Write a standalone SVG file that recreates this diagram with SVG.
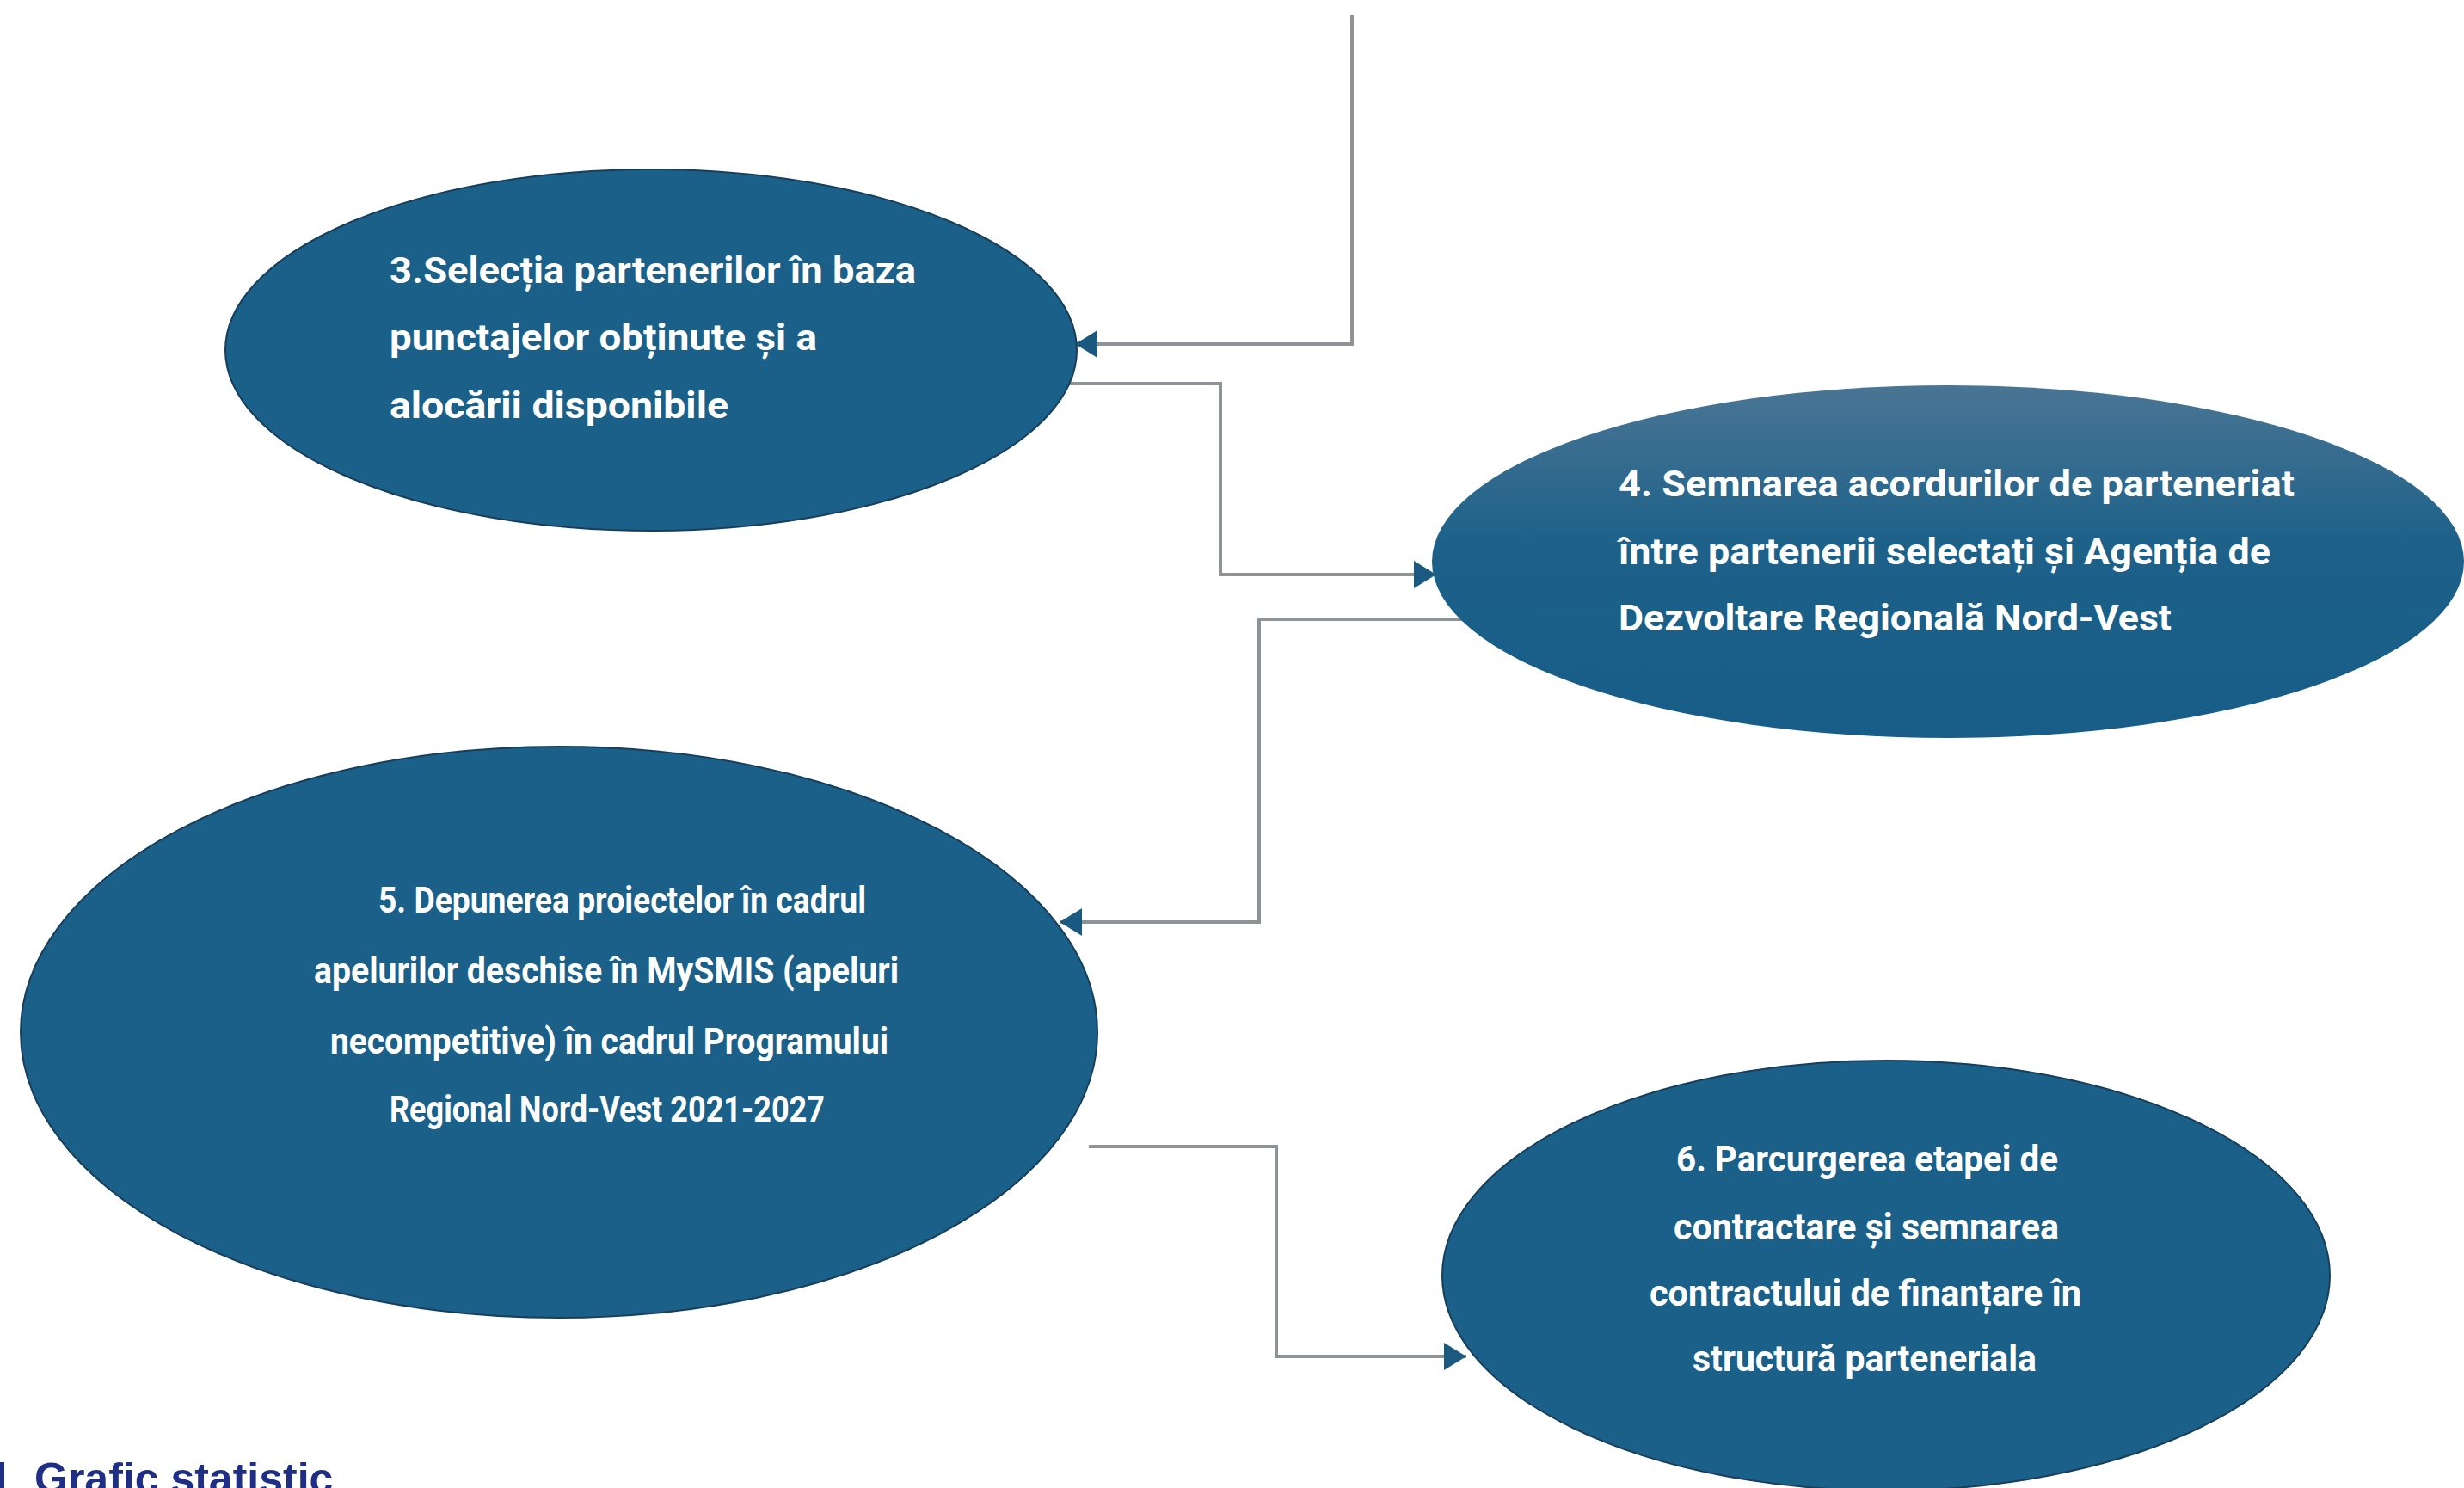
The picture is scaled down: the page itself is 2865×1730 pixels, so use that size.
<svg xmlns="http://www.w3.org/2000/svg" width="2865" height="1730" viewBox="0 0 2865 1730">
<style>
.node{fill:#1b6089;stroke:#173f5c;stroke-width:2}
.lbl{font-family:Roboto,"Liberation Sans",sans-serif;font-weight:bold;font-size:43px;fill:#ffffff}
.conn{fill:none;stroke:#8e9398;stroke-width:4}
.cap{font-family:"Liberation Sans",Arial,sans-serif;font-weight:bold;font-size:50px;fill:#1f2f86}
</style>
<defs>
<linearGradient id="g4" x1="0" y1="0" x2="0" y2="1">
<stop offset="0" stop-color="#4a7594"/>
<stop offset="0.45" stop-color="#1d6189"/>
<stop offset="1" stop-color="#175d88"/>
</linearGradient>
<marker id="ah" markerUnits="userSpaceOnUse" markerWidth="28" markerHeight="32" refX="26" refY="16" orient="auto">
<path d="M0,0 L26,16 L0,32 Z" fill="#1b5a80"/>
</marker>
</defs>
<rect width="2865" height="1730" fill="#ffffff"/>

<g id="connectors">
<path class="conn" d="M1572,18 V400 H1250" marker-end="url(#ah)"/>
<path class="conn" d="M1240,446 H1419 V668 H1670" marker-end="url(#ah)"/>
<path class="conn" d="M1700,720 H1464 V1072 H1232" marker-end="url(#ah)"/>
<path class="conn" d="M1266,1333 H1484 V1577 H1705" marker-end="url(#ah)"/>
</g>

<g id="node3">
<ellipse class="node" cx="757" cy="407" rx="495" ry="210"/>
<text class="lbl" x="453" y="329" textLength="612" lengthAdjust="spacingAndGlyphs">3.Selecția partenerilor în baza</text>
<text class="lbl" x="453" y="407" textLength="497" lengthAdjust="spacingAndGlyphs">punctajelor obținute și a</text>
<text class="lbl" x="453" y="486" textLength="394" lengthAdjust="spacingAndGlyphs">alocării disponibile</text>
</g>

<g id="node4">
<ellipse cx="2265" cy="653" rx="600" ry="205" fill="url(#g4)"/>
<text class="lbl" x="1882" y="577" textLength="786" lengthAdjust="spacingAndGlyphs">4. Semnarea acordurilor de parteneriat</text>
<text class="lbl" x="1882" y="656" textLength="758" lengthAdjust="spacingAndGlyphs">între partenerii selectați și Agenția de</text>
<text class="lbl" x="1882" y="733" textLength="643" lengthAdjust="spacingAndGlyphs">Dezvoltare Regională Nord-Vest</text>
</g>

<g id="node5">
<ellipse class="node" cx="650" cy="1200" rx="626" ry="332"/>
<text class="lbl" x="440" y="1061" textLength="567" lengthAdjust="spacingAndGlyphs">5. Depunerea proiectelor în cadrul</text>
<text class="lbl" x="365" y="1143" textLength="680" lengthAdjust="spacingAndGlyphs">apelurilor deschise în MySMIS (apeluri</text>
<text class="lbl" x="384" y="1225" textLength="649" lengthAdjust="spacingAndGlyphs">necompetitive) în cadrul Programului</text>
<text class="lbl" x="453" y="1304" textLength="506" lengthAdjust="spacingAndGlyphs">Regional Nord-Vest 2021-2027</text>
</g>

<g id="node6">
<ellipse class="node" cx="2193" cy="1483" rx="516" ry="250"/>
<text class="lbl" x="1949" y="1362" textLength="444" lengthAdjust="spacingAndGlyphs">6. Parcurgerea etapei de</text>
<text class="lbl" x="1946" y="1441" textLength="448" lengthAdjust="spacingAndGlyphs">contractare și semnarea</text>
<text class="lbl" x="1918" y="1518" textLength="502" lengthAdjust="spacingAndGlyphs">contractului de finanțare în</text>
<text class="lbl" x="1968" y="1594" textLength="400" lengthAdjust="spacingAndGlyphs">structură parteneriala</text>
</g>

<g id="caption">
<rect x="0" y="1700" width="5" height="30" fill="#1f2f86"/>
<text class="cap" x="40" y="1736">Grafic statistic</text>
</g>
</svg>
